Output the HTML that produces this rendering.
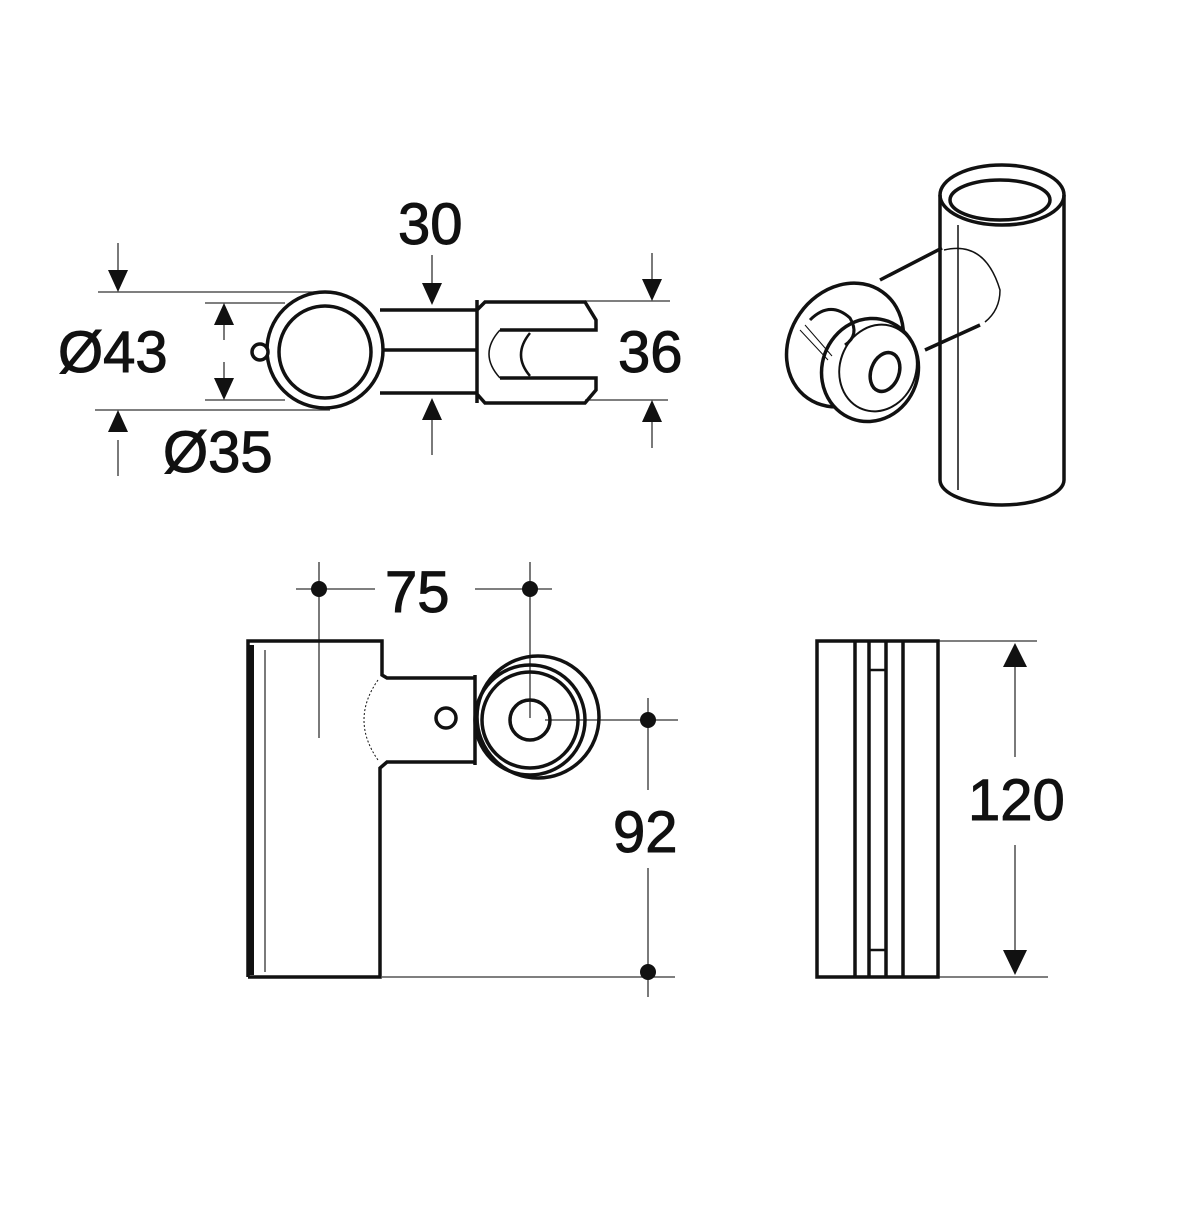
<!DOCTYPE html>
<html><head><meta charset="utf-8"><style>
html,body{margin:0;padding:0;background:#fff}
svg{display:block}
text{font-family:"Liberation Sans",sans-serif;fill:#111}
</style></head><body>
<svg width="1200" height="1205" viewBox="0 0 1200 1205" xmlns="http://www.w3.org/2000/svg">
<g fill="none" stroke="#111">
<g stroke-width="1.3" stroke="#333">
<line x1="98" y1="292" x2="315" y2="292"/>
<line x1="95" y1="410" x2="330" y2="410"/>
<line x1="205" y1="303" x2="285" y2="303"/>
<line x1="205" y1="400" x2="285" y2="400"/>
<line x1="118" y1="243" x2="118" y2="270"/>
<line x1="118" y1="440" x2="118" y2="476"/>
<line x1="224" y1="325" x2="224" y2="340"/>
<line x1="224" y1="362" x2="224" y2="378"/>
<line x1="432" y1="255" x2="432" y2="285"/>
<line x1="432" y1="420" x2="432" y2="455"/>
<line x1="585" y1="301" x2="670" y2="301"/>
<line x1="585" y1="400" x2="668" y2="400"/>
<line x1="652" y1="253" x2="652" y2="280"/>
<line x1="652" y1="422" x2="652" y2="448"/>
</g>
<g fill="#111" stroke="none">
<polygon points="108,270 128,270 118,292"/>
<polygon points="108,432 128,432 118,410"/>
<polygon points="214,325 234,325 224,303"/>
<polygon points="214,378 234,378 224,400"/>
<polygon points="422,283 442,283 432,305"/>
<polygon points="422,420 442,420 432,398"/>
<polygon points="642,279 662,279 652,301"/>
<polygon points="642,422 662,422 652,400"/>
</g>
<g stroke-width="3.5">
<circle cx="325" cy="350" r="58"/>
<circle cx="325" cy="352" r="46"/>
<circle cx="260" cy="352" r="8" fill="#fff"/>
<line x1="380" y1="310" x2="477" y2="310"/>
<line x1="383" y1="350" x2="477" y2="350"/>
<line x1="380" y1="393" x2="477" y2="393"/>
<path d="M477,300 L477,403 M477,310 L485,302 L585,302 L596,320 L596,330 L500,330 M500,378 L596,378 L596,390 L585,403 L485,403 L477,394"/>
<path d="M530,333 Q512,355 530,376" stroke-width="2.5"/>
<path d="M500,330 Q478,354 500,378" stroke-width="1.5"/>
</g>
<text x="58" y="372" font-size="58">Ø43</text>
<text x="163" y="472" font-size="58">Ø35</text>
<text x="398" y="244" font-size="58">30</text>
<text x="618" y="372" font-size="58">36</text>

<g stroke-width="3.5">
<path d="M940,195 L940,480 A62,25 0 0 0 1064,480 L1064,195"/>
<ellipse cx="1002" cy="195" rx="62" ry="30"/>
<ellipse cx="1000" cy="200" rx="50" ry="20"/>
<line x1="958" y1="225" x2="958" y2="490" stroke-width="1.5"/>
<path d="M942,248 L880,280 M925,350 L980,325"/>
<path d="M944,250 Q985,240 1000,290 Q1000,310 985,322" stroke-width="1.5"/>
<ellipse cx="845" cy="345" rx="55" ry="65" transform="rotate(35 845 345)"/>
<ellipse cx="870" cy="370" rx="48" ry="52" transform="rotate(20 870 370)" fill="#fff"/>
<ellipse cx="878" cy="368" rx="38" ry="44" transform="rotate(20 878 368)" stroke-width="2"/>
<ellipse cx="885" cy="372" rx="14" ry="20" transform="rotate(20 885 372)"/>
<path d="M810,320 Q830,300 850,318 Q860,335 845,345" stroke-width="3"/>
<path d="M800,330 L828,360 M805,325 L832,356" stroke-width="1"/>
</g>

<g stroke-width="1.3" stroke="#333">
<line x1="296" y1="589" x2="375" y2="589"/>
<line x1="475" y1="589" x2="552" y2="589"/>
<line x1="319" y1="562" x2="319" y2="738"/>
<line x1="530" y1="562" x2="530" y2="718"/>
<line x1="545" y1="720" x2="678" y2="720"/>
<line x1="382" y1="977" x2="675" y2="977"/>
<line x1="648" y1="698" x2="648" y2="790"/>
<line x1="648" y1="868" x2="648" y2="997"/>
<line x1="265" y1="650" x2="265" y2="972"/>
</g>
<g fill="#111" stroke="none">
<circle cx="319" cy="589" r="8"/>
<circle cx="530" cy="589" r="8"/>
<circle cx="648" cy="720" r="8"/>
<circle cx="648" cy="972" r="8"/>
</g>
<g stroke-width="3.5">
<path d="M248,977 L248,641 L382,641 L382,675 L387,678 L475,678"/>
<path d="M475,762 L387,762 L380,768 L380,977 L248,977"/>
<line x1="251" y1="645" x2="251" y2="975" stroke-width="6"/>
<circle cx="538" cy="717" r="61"/>
<circle cx="530" cy="720" r="55"/>
<circle cx="530" cy="720" r="48"/>
<circle cx="530" cy="720" r="20"/>
<circle cx="446" cy="718" r="10"/>
<line x1="475" y1="675" x2="475" y2="765"/>
<path d="M378,680 Q350,720 378,760" stroke-width="1" stroke-dasharray="2,2"/>
</g>
<text x="385" y="612" font-size="58">75</text>
<text x="613" y="852" font-size="58">92</text>

<g stroke-width="1.3" stroke="#333">
<line x1="938" y1="641" x2="1037" y2="641"/>
<line x1="938" y1="977" x2="1048" y2="977"/>
<line x1="1015" y1="665" x2="1015" y2="757"/>
<line x1="1015" y1="845" x2="1015" y2="955"/>
</g>
<g fill="#111" stroke="none">
<polygon points="1003,667 1027,667 1015,643"/>
<polygon points="1003,950 1027,950 1015,975"/>
</g>
<g stroke-width="3.5">
<rect x="817" y="641" width="121" height="336"/>
<line x1="855" y1="641" x2="855" y2="977"/>
<line x1="869" y1="641" x2="869" y2="977"/>
<line x1="886" y1="641" x2="886" y2="977"/>
<line x1="903" y1="641" x2="903" y2="977"/>
<line x1="869" y1="670" x2="886" y2="670" stroke-width="2.5"/>
<line x1="869" y1="950" x2="886" y2="950" stroke-width="2.5"/>
</g>
<text x="968" y="820" font-size="58">120</text>
</g>
</svg>
</body></html>
